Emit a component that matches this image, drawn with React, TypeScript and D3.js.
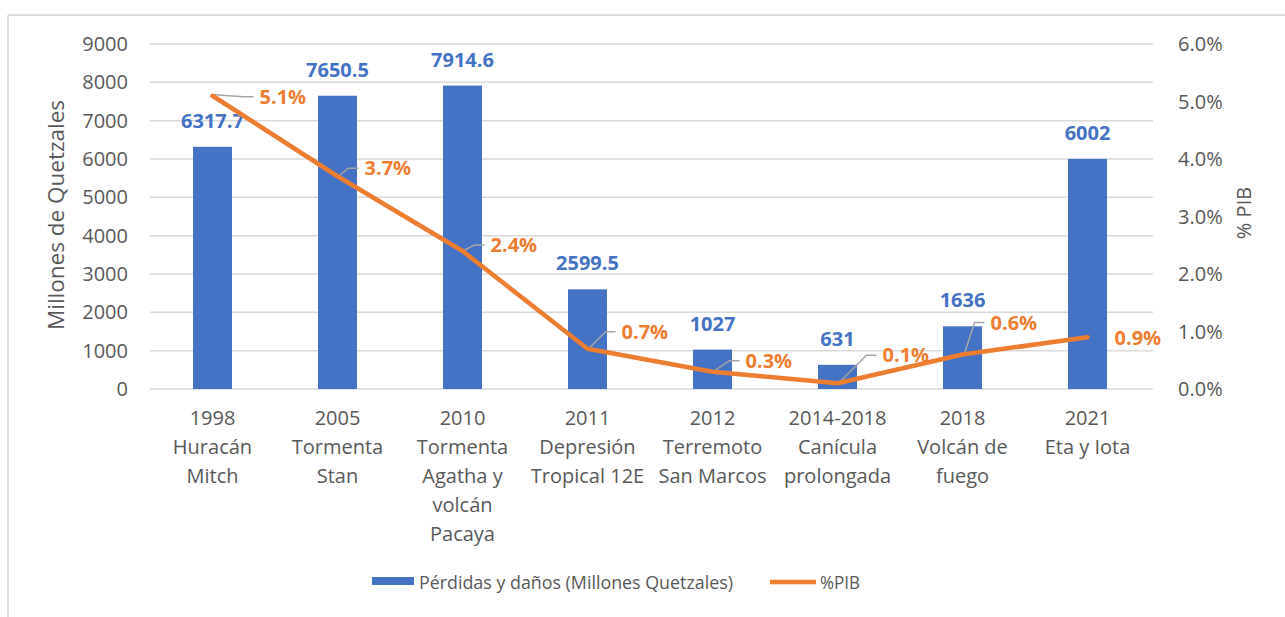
import React from "react";
import * as d3 from "d3";

const categories: string[][] = [
  ["1998", "Huracán", "Mitch"],
  ["2005", "Tormenta", "Stan"],
  ["2010", "Tormenta", "Agatha y", "volcán", "Pacaya"],
  ["2011", "Depresión", "Tropical 12E"],
  ["2012", "Terremoto", "San Marcos"],
  ["2014-2018", "Canícula", "prolongada"],
  ["2018", "Volcán de", "fuego"],
  ["2021", "Eta y Iota"],
];
const losses = [6317.7, 7650.5, 7914.6, 2599.5, 1027, 631, 1636, 6002];
const pib = [5.1, 3.7, 2.4, 0.7, 0.3, 0.1, 0.6, 0.9];
const leftTicks = [0, 1000, 2000, 3000, 4000, 5000, 6000, 7000, 8000, 9000];
const rightTicks = [0, 1, 2, 3, 4, 5, 6];

// label placement offsets (dx from point to label left, dy from point to label centre)
const pibLabelOffsets: [number, number][] = [
  [47, 1],
  [27, -8],
  [28, -6],
  [34, -17],
  [33, -11],
  [45, -28],
  [28, -32],
  [27, 1],
];

const W = 1285;
const H = 617;
const left = 150;
const right = 1150;
const top = 44;
const bottom = 389;

const BLUE = "#4472C4";
const ORANGE = "#ED7D31";
const GRID = "#d9d9d9";
const TXT = "#595959";
const FONT = "'Open Sans', sans-serif";

export default function App() {
  const idx = categories.map((_, i) => String(i));
  const x = d3.scaleBand<string>().domain(idx).range([left, right]).padding(0);
  const bw = x.bandwidth() * 0.312;
  const cx = (i: number) => (x(String(i)) as number) + x.bandwidth() / 2;
  const yL = d3.scaleLinear().domain([0, 9000]).range([bottom, top]);
  const yR = d3.scaleLinear().domain([0, 6]).range([bottom, top]);

  const line = d3
    .line<number>()
    .x((_, i) => cx(i))
    .y((d) => yR(d));

  return (
    <svg
      width={W}
      height={H}
      style={{ position: "absolute", left: 0, top: 0, background: "#fff" }}
      fontFamily={FONT}
    >
      <rect x={0} y={0} width={W} height={H} fill="#fff" />
      {/* outer border */}
      <line x1={8} x2={W} y1={15} y2={15} stroke="#d4d4d4" strokeWidth={1.5} />
      <line x1={8} x2={8} y1={15} y2={H} stroke="#d4d4d4" strokeWidth={1.5} />

      {/* gridlines */}
      {leftTicks.map((t) => (
        <line
          key={"g" + t}
          x1={left}
          x2={right + 3}
          y1={yL(t)}
          y2={yL(t)}
          stroke={GRID}
          strokeWidth={1.5}
        />
      ))}

      {/* left ticks */}
      {leftTicks.map((t) => (
        <text
          key={"l" + t}
          x={128}
          y={yL(t) + 7}
          textAnchor="end"
          fontSize={20}
          fill={TXT}
        >
          {t}
        </text>
      ))}
      {/* right ticks */}
      {rightTicks.map((t) => (
        <text
          key={"r" + t}
          x={1178}
          y={yR(t) + 7}
          textAnchor="start"
          fontSize={20}
          fill={TXT}
        >
          {t.toFixed(1) + "%"}
        </text>
      ))}

      {/* axis titles */}
      <text
        transform={`translate(64,215) rotate(-90)`}
        textAnchor="middle"
        fontSize={21}
        fill={TXT}
        textLength={230}
        lengthAdjust="spacingAndGlyphs"
      >
        Millones de Quetzales
      </text>
      <text
        transform={`translate(1251,213) rotate(-90)`}
        textAnchor="middle"
        fontSize={20}
        fill={TXT}
      >
        % PIB
      </text>

      {/* bars */}
      {losses.map((v, i) => (
        <rect
          key={"b" + i}
          x={cx(i) - bw / 2}
          y={yL(v)}
          width={bw}
          height={yL(0) - yL(v)}
          fill={BLUE}
        />
      ))}
      {/* bar labels */}
      {losses.map((v, i) => (
        <text
          key={"bl" + i}
          x={cx(i)}
          y={yL(v) - 19}
          textAnchor="middle"
          fontSize={20}
          fontWeight="bold"
          fill={BLUE}
        >
          {String(v)}
        </text>
      ))}

      {/* x labels */}
      {categories.map((lines, i) => (
        <text key={"x" + i} textAnchor="middle" fontSize={20} fill={TXT}>
          {lines.map((ln, j) => (
            <tspan key={j} x={cx(i)} y={425 + j * 29}>
              {ln}
            </tspan>
          ))}
        </text>
      ))}

      {/* leader lines */}
      {pib.map((v, i) => {
        const [dx, dy] = pibLabelOffsets[i];
        const px = cx(i);
        const py = yR(v);
        const lx = px + dx;
        const ly = py + dy;
        if (Math.abs(dy) < 3 && dx < 40) return null;
        return (
          <path
            key={"ll" + i}
            d={`M${px + 2},${py - 1} L${lx - 16},${ly} L${lx - 6},${ly}`}
            fill="none"
            stroke="#a6a6a6"
            strokeWidth={1.5}
          />
        );
      })}

      {/* line */}
      <path
        d={line(pib) as string}
        fill="none"
        stroke={ORANGE}
        strokeWidth={4.5}
        strokeLinejoin="round"
        strokeLinecap="round"
      />

      {/* pib labels */}
      {pib.map((v, i) => {
        const [dx, dy] = pibLabelOffsets[i];
        return (
          <text
            key={"pl" + i}
            x={cx(i) + dx}
            y={yR(v) + dy + 7}
            fontSize={20}
            fontWeight="bold"
            fill={ORANGE}
          >
            {v.toFixed(1) + "%"}
          </text>
        );
      })}

      {/* legend */}
      <rect x={372} y={577} width={42} height={8} fill={BLUE} />
      <text
        x={419}
        y={589}
        fontSize={18}
        fill={TXT}
        textLength={314}
        lengthAdjust="spacingAndGlyphs"
      >
        Pérdidas y daños (Millones Quetzales)
      </text>
      <line x1={770} x2={816} y1={582} y2={582} stroke={ORANGE} strokeWidth={4.5} />
      <text
        x={820}
        y={589}
        fontSize={18}
        fill={TXT}
        textLength={40}
        lengthAdjust="spacingAndGlyphs"
      >
        %PIB
      </text>
    </svg>
  );
}
